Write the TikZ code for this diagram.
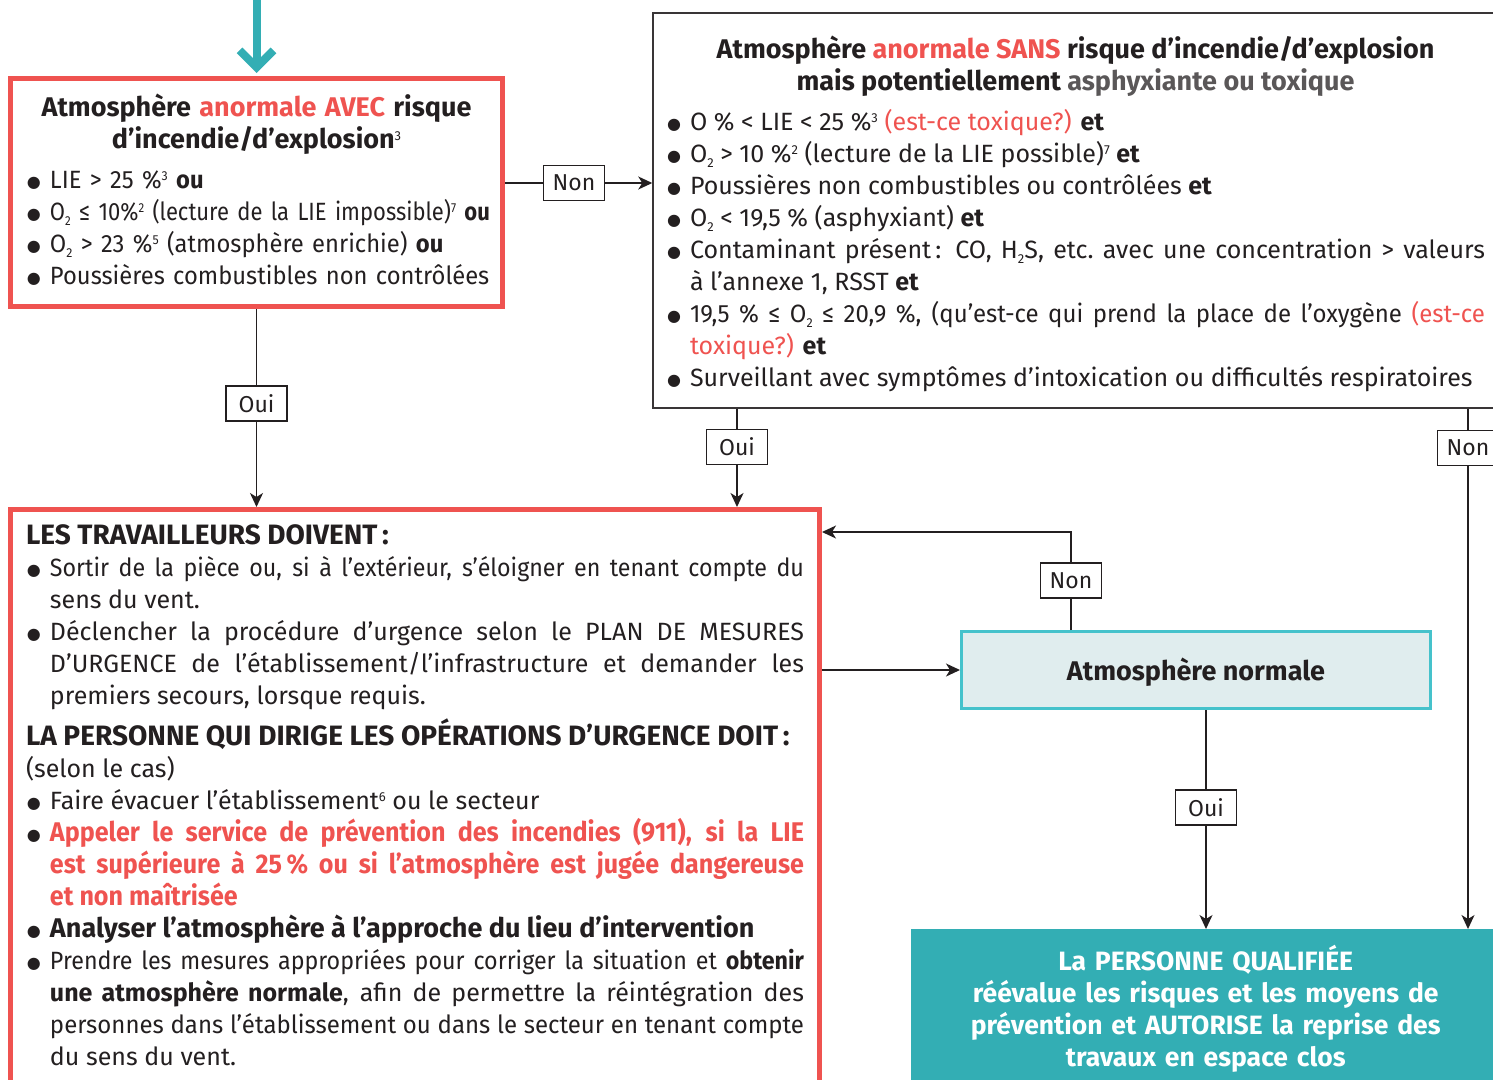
\documentclass[tikz,border=0pt]{standalone}
\usepackage{fontspec}
\setmainfont{Fira Sans}
\newfontfamily\serre{Fira Sans}[FakeStretch=0.93]
\newfontfamily\leger{Fira Sans}[FakeStretch=0.95]
\newfontfamily\presque{Fira Sans}[FakeStretch=0.96]
\newfontfamily\tasse{Fira Sans}[FakeStretch=0.88]
\newfontfamily\symb{DejaVu Sans}
\usetikzlibrary{arrows.meta,positioning}

\definecolor{rouge}{HTML}{EF5350}
\definecolor{sarcelle}{HTML}{33AEB4}
\definecolor{sarcelleclair}{HTML}{E0EDEE}
\definecolor{sarcellevif}{HTML}{45C2CB}
\definecolor{encre}{HTML}{231F20}

\newcommand{\puce}{\par\noindent\hangindent=24pt\hangafter=1\makebox[24pt][l]{\hspace{1pt}\raisebox{1.5pt}{\symb\fontsize{16}{16}\selectfont ●}}}
\newcommand{\exposant}[1]{\raisebox{8.5pt}{\fontsize{13}{13}\selectfont #1}}
\newcommand{\indice}[1]{\raisebox{-5pt}{\fontsize{13}{13}\selectfont #1}}
\newcommand{\titre}{\fontsize{27}{32}\selectfont\bfseries}

\begin{document}
\begin{tikzpicture}[x=1pt, y=-1pt, text=encre,
    corps/.style = {font=\fontsize{25}{32}\selectfont},
    redbox/.style = {corps, draw=rouge, line width=5pt, inner xsep=15.5pt, anchor=north west},
    lbl/.style = {draw=encre, fill=white, line width=1.3pt, minimum width=61pt, minimum height=35pt, inner sep=0pt, font=\fontsize{23}{28}\selectfont},
    arr/.style = {draw=encre, line width=1.4pt, -{Stealth[length=14pt, width=13pt, inset=4pt]}},
    lien/.style = {draw=encre, line width=1.4pt}]
  \useasboundingbox (0,0) rectangle (1493,1079);

  % boxes
  \node[redbox, text width=461pt, minimum width=492pt, minimum height=228pt, align=left] (avec) at (8,76) {%
    {\centering\titre Atmosphère \textcolor{rouge}{anormale AVEC} risque\\ d’incendie/d’explosion{\mdseries\exposant{3}}\par}
    \vspace{8pt}
    \puce\mbox{\leger LIE > 25 \%\exposant{3} \textbf{ou}}
    \puce\mbox{\tasse O\indice{2} ≤ 10\%\exposant{2} (lecture de la LIE impossible)\exposant{7} \textbf{ou}}
    \puce\mbox{\leger O\indice{2} > 23 \%\exposant{5} (atmosphère enrichie) \textbf{ou}}
    \puce\mbox{\leger Poussières combustibles non contrôlées}\par
    \vspace{6pt}};
  \node[corps, draw=encre!90, line width=1.5pt, anchor=north west, inner xsep=13pt, text width=819pt,
        minimum width=845pt, minimum height=395pt, align=justify] (sans) at (652.25,12.25) {%
    {\centering\titre Atmosphère \textcolor{rouge}{anormale SANS} risque d’incendie/d’explosion\\
      mais potentiellement \textcolor{encre!75}{asphyxiante ou toxique}\par}
    \vspace{8pt}
    \puce O \% < LIE < 25 \%\exposant{3} \textcolor{rouge}{(est-ce toxique?)} \textbf{et}
    \puce O\indice{2} > 10 \%\exposant{2} (lecture de la LIE possible)\exposant{7} \textbf{et}
    \puce Poussières non combustibles ou contrôlées \textbf{et}
    \puce O\indice{2} < 19,5 \% (asphyxiant) \textbf{et}
    \puce Contaminant présent\,: CO, H\indice{2}S, etc.\ avec une concentration > valeurs\linebreak
      à l’annexe 1, RSST \textbf{et}
    \puce {\presque 19,5 \% ≤ O\indice{2} ≤ 20,9 \%, (qu’est-ce qui prend la place de l’oxygène \textcolor{rouge}{(est-ce}}\linebreak
      \textcolor{rouge}{toxique?)} \textbf{et}
    \puce Surveillant avec symptômes d’intoxication ou difficultés respiratoires\par
    \vspace{-7pt}};
  \node[redbox, text width=778pt, inner ysep=15.5pt, align=justify] (travail) at (8,507) {%
    {\noindent\fontsize{28}{32}\selectfont\bfseries LES TRAVAILLEURS DOIVENT\,:\par}
    \puce {\serre Sortir de la pièce ou, si à l’extérieur, s’éloigner en tenant compte du}\linebreak
      sens du vent.
    \puce Déclencher la procédure d’urgence selon le PLAN DE MESURES\linebreak
      D’URGENCE de l’établissement/l’infrastructure et demander les\linebreak
      premiers secours, lorsque requis.\par
    \vspace{8pt}
    {\noindent\fontsize{28}{32}\selectfont\bfseries LA PERSONNE QUI DIRIGE LES OPÉRATIONS D’URGENCE DOIT\,:\par}
    \noindent(selon le cas)
    \puce Faire évacuer l’établissement\exposant{6} ou le secteur
    \puce {\serre\titre\color{rouge}Appeler le service de prévention des incendies (911), si la LIE\linebreak
      est supérieure à 25\,\% ou si l’atmosphère est jugée dangereuse\linebreak
      et non maîtrisée\par}
    \puce {\titre Analyser l’atmosphère à l’approche du lieu d’intervention\par}
    \puce {\serre Prendre les mesures appropriées pour corriger la situation et \textbf{obtenir}}\linebreak
      \textbf{une atmosphère normale}, afin de permettre la réintégration des\linebreak
      {\presque personnes dans l’établissement ou dans le secteur en tenant compte}\linebreak
      du sens du vent.\par
    \vspace{30pt}};
  \node[draw=sarcellevif, fill=sarcelleclair, line width=3pt, anchor=north west, text height=22pt, text depth=2pt,
        minimum width=469pt, minimum height=77pt, font=\titre] (normale) at (960,630) {Atmosphère normale};
  \node[fill=sarcelle, text=white, anchor=north west, minimum width=589pt, minimum height=160pt,
        text width=570pt, align=center, font=\fontsize{26.5}{32}\selectfont\bfseries] (qualif) at (911,929) {%
    La PERSONNE QUALIFIÉE\\ réévalue les risques et les moyens de\\ prévention et AUTORISE la reprise des\\ travaux en espace clos};

  % labels
  \node[lbl] (nonA) at (574,183) {Non};
  \node[lbl] (ouiA) at (256.5,403.5) {Oui};
  \node[lbl] (ouiB) at (737,447) {Oui};
  \node[lbl] (nonB) at (1468,448) {Non};
  \node[lbl] (nonD) at (1071,580.5) {Non};
  \node[lbl] (ouiD) at (1206,807.5) {Oui};
  \coordinate (depart) at (256.5,-5);
  \coordinate (coude) at (1071,532);

  % connectors
  \draw[sarcelle, line width=8pt, shorten >=3pt, -{Straight Barb[length=17pt, width=34pt]}] (depart) -- (avec.north);
  \draw[lien] (avec.east |- nonA) -- (nonA.west);
  \draw[arr] (nonA.east) -- (sans.west |- nonA);
  \draw[lien] (avec.south) -- (ouiA.north);
  \draw[arr] (ouiA.south) -- (ouiA |- travail.north);
  \draw[lien] (ouiB |- sans.south) -- (ouiB.north);
  \draw[arr] (ouiB.south) -- (ouiB |- travail.north);
  \draw[lien] (nonB |- sans.south) -- (nonB.north);
  \draw[arr] (nonB.south) -- (nonB |- qualif.north);
  \draw[arr] (travail.east |- normale.west) -- (normale.west);
  \draw[lien] (nonD |- normale.north) -- (nonD.south);
  \draw[arr] (nonD.north) -- (coude) -- (coude -| travail.east);
  \draw[lien] (ouiD |- normale.south) -- (ouiD.north);
  \draw[arr] (ouiD.south) -- (ouiD |- qualif.north);
\end{tikzpicture}
\end{document}
